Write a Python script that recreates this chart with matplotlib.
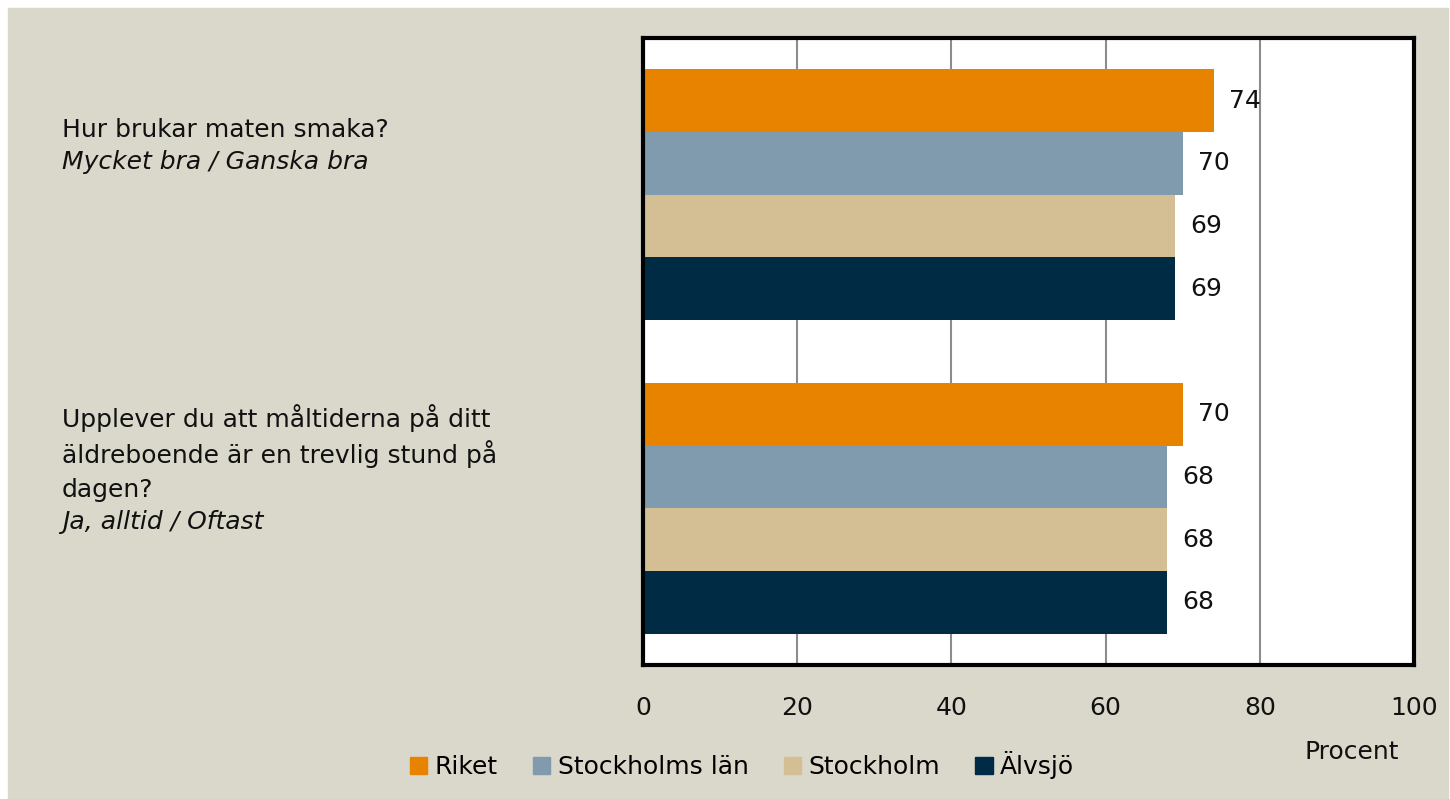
import matplotlib.pyplot as plt
import matplotlib.patches as mpatches
import numpy as np

series = ['Riket', 'Stockholms län', 'Stockholm', 'Älvsjö']
colors = ['#E88300', '#7F9BAD', '#D4BF95', '#002B45']
# values per series, one per question (top question first)
values = {
    'Riket': [74, 70],
    'Stockholms län': [70, 68],
    'Stockholm': [69, 68],
    'Älvsjö': [69, 68],
}
questions = [
    ['Hur brukar maten smaka?'],
    ['Upplever du att måltiderna på ditt', 'äldreboende är en trevlig stund på', 'dagen?'],
]
answers = ['Mycket bra / Ganska bra', 'Ja, alltid / Oftast']
xticks = [0, 20, 40, 60, 80, 100]

plt.rcParams['font.family'] = ['DejaVu Sans']
FS = 18

W, H = 1450, 799
fig = plt.figure(figsize=(W / 100, H / 100), dpi=100, facecolor='white')
bg = '#DAD7CB'
fig.patches.append(mpatches.Rectangle((8 / W, 0), 1 - 10 / W, 1 - 8 / H,
                                      transform=fig.transFigure, color=bg, zorder=-10))

ax = fig.add_axes([643 / W, 1 - 665 / H, (1414 - 643) / W, (665 - 38) / H])
ax.set_facecolor('white')

bar_h = 0.2
n = len(series)
for i, name in enumerate(series):
    ys = np.arange(len(questions)) + (i - (n - 1) / 2) * bar_h
    bars = ax.barh(ys, values[name], height=bar_h, color=colors[i], zorder=2)
    for b, v in zip(bars, values[name]):
        ax.text(v + 2, b.get_y() + b.get_height() / 2, str(v), va='center', ha='left',
                fontsize=FS, color='#111111', zorder=3)

ax.set_xlim(0, 100)
ax.set_ylim(1.5, -0.5)
ax.set_xticks(xticks)
ax.set_xticklabels([str(t) for t in xticks], fontsize=FS, color='#111111')
ax.tick_params(axis='x', length=0, pad=22)
ax.set_yticks([])
ax.grid(axis='x', color='#8C8C8C', linewidth=1.5, zorder=1)
for s in ax.spines.values():
    s.set_linewidth(3)
    s.set_color('black')

# question labels
def fy(py):
    return 1 - py / H

ypos = [[130], [418, 454, 490]]
for q, ys in zip(questions, ypos):
    for line, y in zip(q, ys):
        fig.text(62 / W, fy(y), line, fontsize=FS, va='center', ha='left', color='#111111')
fig.text(62 / W, fy(162), answers[0], fontsize=FS, va='center', ha='left',
         style='italic', color='#111111')
fig.text(62 / W, fy(522), answers[1], fontsize=FS, va='center', ha='left',
         style='italic', color='#111111')

fig.text(1352 / W, fy(752), 'Procent', fontsize=FS, ha='center', va='center', color='#111111')

handles = [mpatches.Patch(color=c, label=s) for s, c in zip(series, colors)]
fig.legend(handles=handles, loc='center', bbox_to_anchor=(742 / W, fy(765)), ncol=4,
           frameon=False, fontsize=FS, handlelength=0.7, handleheight=0.7,
           handletextpad=0.3, columnspacing=1.4)

fig.savefig('out.png', dpi=100, facecolor=fig.get_facecolor())
